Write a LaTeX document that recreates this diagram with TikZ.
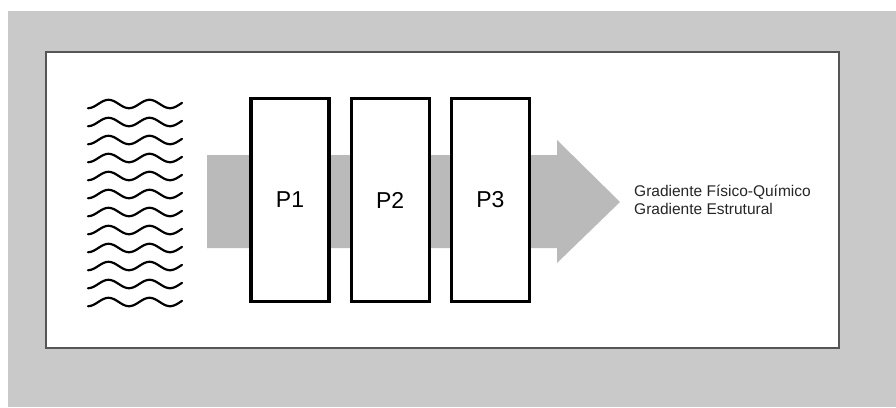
\documentclass[tikz,border=0pt]{standalone}
\usepackage{fontspec}
\setmainfont{Liberation Sans}
\usepackage{xcolor}
\definecolor{frame}{HTML}{C9C9C9}
\definecolor{flow}{HTML}{BABABA}
\definecolor{edge}{HTML}{555555}
\usetikzlibrary{positioning}

\tikzset{
  phase/.style={draw=black, line width=3.2pt, fill=white, minimum width=78pt,
                minimum height=203pt, inner sep=0pt, font=\fontsize{23}{25}\selectfont},
  wave/.style={line width=2.2pt, line cap=round}
}

\begin{document}
\begin{tikzpicture}[x=1pt, y=-1pt]
  \useasboundingbox (0,0) rectangle (896,407);
  \fill[white] (0,0) rectangle (896,407);
  \fill[frame] (8,11) rectangle (896,407);
  \draw[edge, line width=1.6pt, fill=white] (46,52) rectangle (839,348);

  % flow arrow
  \fill[flow] (207,155) -- (557,155) -- (557,140) -- (620,202)
             -- (557,263) -- (557,248) -- (207,248) -- cycle;

  % waves
  \foreach \i in {0,...,11}
    \draw[wave] plot[domain=0:94, samples=60, smooth]
      ({88+\x}, {104 + 18*\i + 4.2*cos(\x*8.78)});

  % phases
  \node[phase] (p1) at (290,200) {P1};
  \node[phase, right=19pt of p1] (p2) {P2};
  \node[phase, right=19pt of p2] (p3) {P3};

  \node[anchor=west, align=left, inner sep=0pt, text=black!85,
        font=\fontsize{15.5}{17.5}\selectfont] (grad) at (634,200)
    {Gradiente Físico-Químico\\Gradiente Estrutural};
\end{tikzpicture}
\end{document}
